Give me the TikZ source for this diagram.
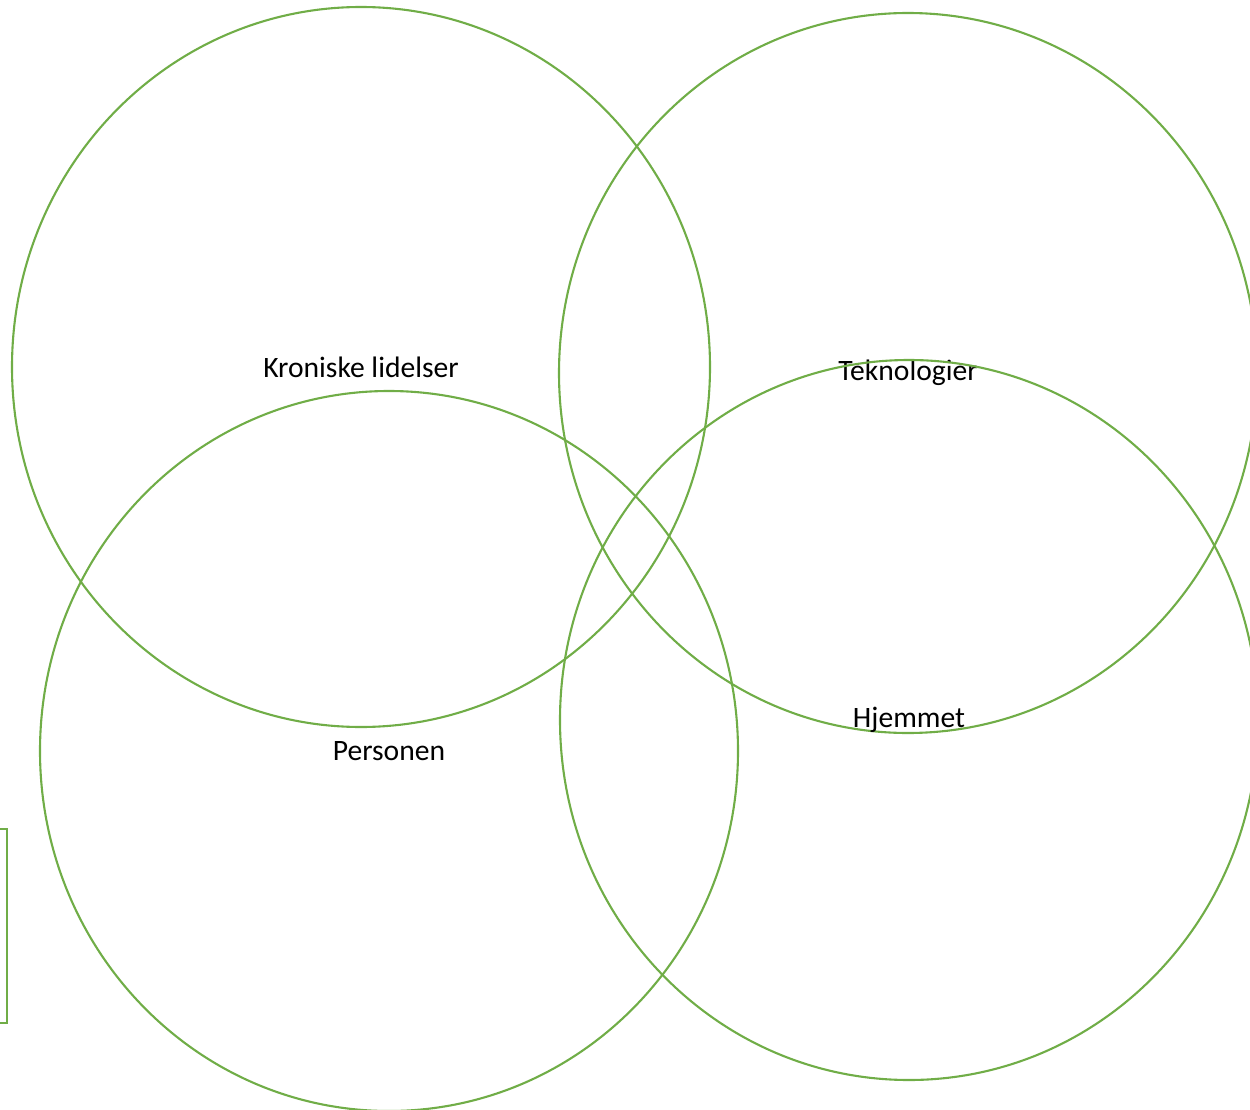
\documentclass[tikz,border=0pt]{standalone}
\usepackage{fontspec}
\setmainfont{Carlito}
\usepackage{tikz}
\usetikzlibrary{shapes.geometric}
\usepackage{xcolor}
\definecolor{ringgreen}{HTML}{70AD47}

\begin{document}
\begin{tikzpicture}[
        x=1pt, y=-1pt,
        ring/.style={
            ellipse,
            draw=ringgreen,
            line width=2.1pt,
            inner sep=0pt,
            minimum width=698pt,
            minimum height=720pt,
            font=\fontsize{29.6}{35}\selectfont
        },
        sidebox/.style={
            rectangle,
            draw=ringgreen,
            line width=2.1pt,
            minimum width=60pt,
            minimum height=194pt
        }
    ]

        % Ramme
        \useasboundingbox (0,0) rectangle (1250,1110);
        \clip (0,0) rectangle (1250,1110);

        % Øverste ringer
        \node[ring] (kronisk) at (361,367) {Kroniske lidelser};
        \node[ring] (teknologi) at (908,373) {Teknologier};

        % Nederste ringer
        \node[ring] (person) at (389,751) {Personen};
        \node[ring] (hjem) at (909,720) {Hjemmet};

        % Boks ved venstre kant
        \node[sidebox] (kant) at (-23,926) {};

    \end{tikzpicture}
\end{document}
